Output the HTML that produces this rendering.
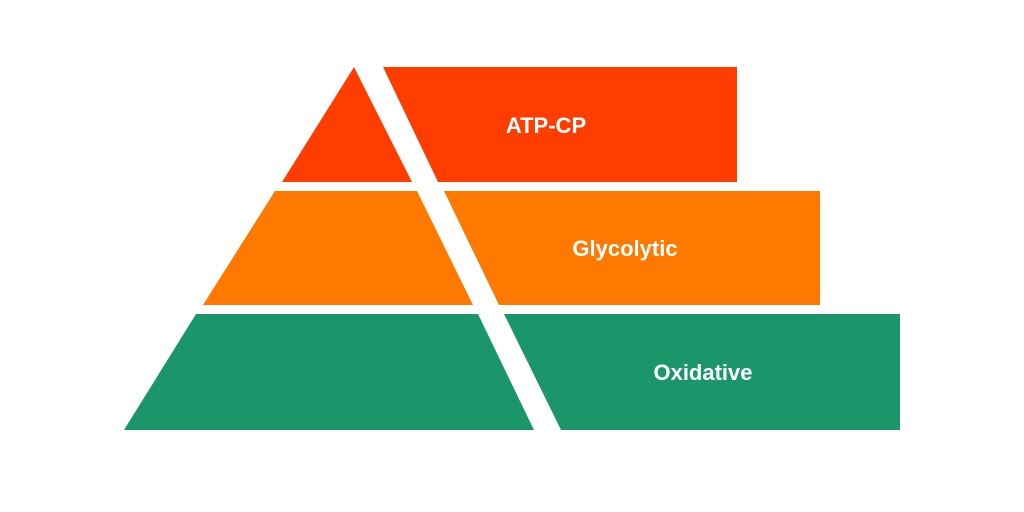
<!DOCTYPE html>
<html><head><style>html,body{margin:0;padding:0;background:#fff;}svg{display:block;}</style></head>
<body>
<svg width="1024" height="512" viewBox="0 0 1024 512" xmlns="http://www.w3.org/2000/svg">
<rect width="1024" height="512" fill="#fff"/>
<polygon points="354,67 412,182 282,182" fill="#FF3D00"/>
<polygon points="383,67 737,67 737,182 438,182" fill="#FF3D00"/>
<polygon points="275,191 417,191 473,305 203,305" fill="#FF7800"/>
<polygon points="444,191 820,191 820,305 499,305" fill="#FF7800"/>
<polygon points="196,314 478,314 534,430 124,430" fill="#1B966B"/>
<polygon points="504,314 900,314 900,430 561,430" fill="#1B966B"/>
<g font-family="Liberation Sans, sans-serif" font-weight="bold" font-size="22" fill="#fff" text-anchor="middle">
<text x="546" y="133">ATP-CP</text>
<text x="625" y="256">Glycolytic</text>
<text x="703" y="380">Oxidative</text>
</g>
</svg>
</body></html>
